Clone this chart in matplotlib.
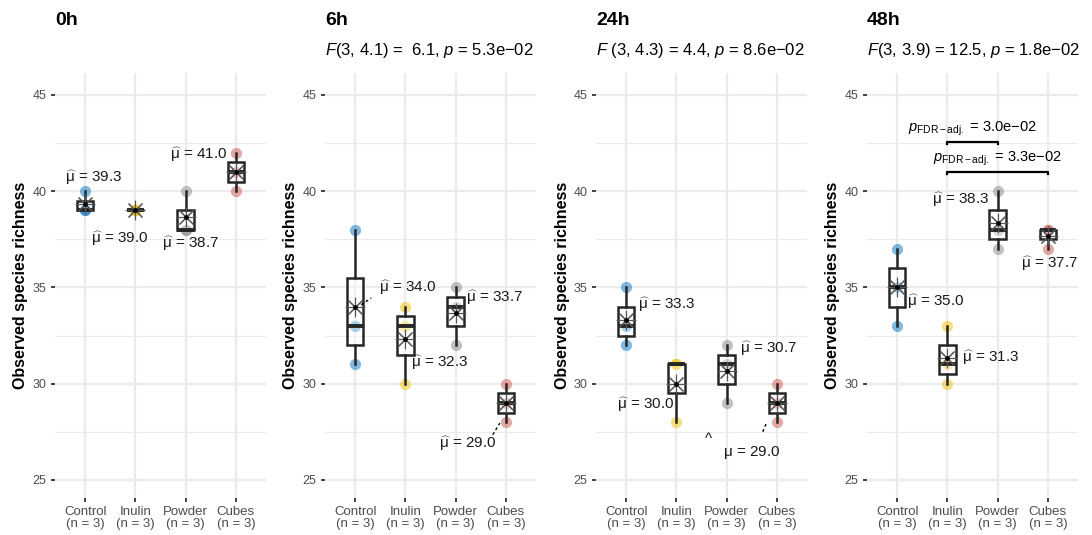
import numpy as np
import matplotlib
matplotlib.use("Agg")
import matplotlib.pyplot as plt

plt.rcParams['font.family'] = ['Liberation Sans', 'DejaVu Sans']
plt.rcParams['mathtext.fontset'] = 'custom'
plt.rcParams['mathtext.rm'] = 'Liberation Sans'
plt.rcParams['mathtext.it'] = 'Liberation Sans:italic'
plt.rcParams['mathtext.bf'] = 'Liberation Sans:bold'

groups = ['Control', 'Inulin', 'Powder', 'Cubes']
n_labels = ['(n = 3)', '(n = 3)', '(n = 3)', '(n = 3)']
times = ['0h', '6h', '24h', '48h']
colors = ['#0073C2', '#EFC000', '#868686', '#CD534C']

# observed species richness, 3 samples per group
rich_0h = [[39, 39, 40], [39, 39, 39], [38, 38, 40], [40, 41, 42]]
rich_6h = [[31, 33, 38], [30, 33, 34], [32, 34, 35], [28, 29, 30]]
rich_24h = [[32, 33, 35], [28, 31, 31], [29, 31, 32], [28, 29, 30]]
rich_48h = [[33, 35, 37], [30, 31, 33], [37, 38, 40], [37, 38, 38]]
richness = [rich_0h, rich_6h, rich_24h, rich_48h]

subtitles = ['',
             r'$F$(3, 4.1) =  6.1, $p$ = 5.3e$-$02',
             r'$F$ (3, 4.3) = 4.4, $p$ = 8.6e$-$02',
             r'$F$(3, 3.9) = 12.5, $p$ = 1.8e$-$02']

# pairwise comparisons shown in 48h panel: (group a, group b, p label)
pairs_48h = [(1, 2, '3.0e$-$02'), (1, 3, '3.3e$-$02')]

# label placement for the mean annotations (repel-like layout)
label_pos = [
    [(1.16, 40.7), (1.68, 37.55), (3.09, 37.3), (3.25, 41.9)],
    [(2.05, 35.0), (2.69, 31.1), (3.78, 34.45), (3.23, 26.9)],
    [(1.80, 34.1), (1.38, 28.9), (3.84, 31.8), (3.49, 26.4)],
    [(1.76, 34.25), (2.85, 31.35), (2.27, 39.55), (4.04, 36.25)],
]
# short dashed connectors (panel, x0, y0, x1, y1)
connectors = [(1, 1.12, 34.1, 1.32, 34.45), (1, 3.74, 27.35, 3.88, 27.95),
              (2, 3.72, 27.5, 3.80, 28.0)]

fig = plt.figure(figsize=(10.92, 5.35), dpi=100)
lefts = [55, 325, 596, 867]
W, H = 1092.0, 535.0

for k, t in enumerate(times):
    ax = fig.add_axes([lefts[k] / W, 37 / H, 211 / W, 425 / H])
    data = richness[k]
    pos = np.arange(1, 5)

    for i in range(4):
        ax.scatter([pos[i]] * 3, data[i], s=65, color=colors[i], alpha=0.5,
                   linewidths=0, zorder=2)

    bp = ax.boxplot(data, positions=pos, widths=0.33, whis=(0, 100),
                    showcaps=False, showfliers=False, patch_artist=True,
                    zorder=3)
    for b in bp['boxes']:
        b.set_facecolor((1, 1, 1, 0.35))
        b.set_edgecolor('#262626')
        b.set_linewidth(1.8)
    for w in bp['whiskers']:
        w.set_color('#262626')
        w.set_linewidth(1.8)
    for m in bp['medians']:
        m.set_color('#262626')
        m.set_linewidth(2.8)

    means = [np.mean(d) for d in data]
    ax.plot(pos, means, linestyle='none', marker=(8, 2, 0), markersize=14,
            color='#555555', markeredgewidth=0.8, zorder=4)
    ax.plot(pos, means, linestyle='none', marker='o', markersize=2.4,
            color='black', zorder=5)

    for i in range(4):
        lx, ly = label_pos[k][i]
        if k == 2 and i == 3:
            ax.text(lx - 0.86, ly + 0.7, '^', fontsize=11, ha='center',
                    va='center', color='#1a1a1a')
            ax.text(lx, ly, r'$\mathrm{\mu}$ = %.1f' % means[i], fontsize=11,
                    ha='center', va='center', color='#1a1a1a')
        else:
            ax.text(lx, ly, r'$\widehat{\mathrm{\mu}}$ = %.1f' % means[i],
                    fontsize=11, ha='center', va='center', color='#1a1a1a')

    for c in connectors:
        if c[0] == k:
            ax.plot([c[1], c[3]], [c[2], c[4]], color='black', lw=1.0,
                    linestyle=(0, (2, 2)), zorder=5)

    if k == 3:
        levels = [(42.56, 43.25), (41.0, 41.7)]
        for (a, b, plab), (yb, yt) in zip(pairs_48h, levels):
            ax.plot([pos[a], pos[a], pos[b], pos[b]],
                    [yb - 0.12, yb, yb, yb - 0.12], color='black', lw=1.6,
                    zorder=5)
            ax.text((pos[a] + pos[b]) / 2, yt,
                    r'$p_{\mathrm{FDR-adj.}}$ = ' + plab, fontsize=10.5,
                    ha='center', va='center')

    ax.set_xlim(0.4, 4.6)
    ax.set_ylim(24.06, 46.14)
    ax.set_yticks([25, 30, 35, 40, 45])
    ax.set_yticks([27.5, 32.5, 37.5, 42.5], minor=True)
    ax.set_xticks(pos)
    ax.set_xticklabels([g + '\n' + n for g, n in zip(groups, n_labels)],
                       linespacing=1.0)
    ax.grid(which='major', color='#EBEBEB', lw=1.6)
    ax.grid(which='minor', axis='y', color='#EBEBEB', lw=0.8)
    ax.set_axisbelow(True)
    for s in ax.spines.values():
        s.set_visible(False)
    ax.tick_params(axis='both', which='major', length=3, width=1.3,
                   color='#333333', labelcolor='#4D4D4D', labelsize=9.5, pad=3)
    ax.tick_params(axis='y', which='major', labelsize=9)
    ax.tick_params(axis='y', which='minor', length=0)
    ax.set_ylabel('Observed species richness', fontsize=11.5,
                  fontweight='bold', labelpad=3)

    ax.text(0, 1.124, t, transform=ax.transAxes, fontsize=14,
            fontweight='bold', ha='left', va='center')
    if subtitles[k]:
        ax.text(0, 1.054, subtitles[k], transform=ax.transAxes, fontsize=12,
                ha='left', va='center')

fig.savefig('out.png', dpi=100)
